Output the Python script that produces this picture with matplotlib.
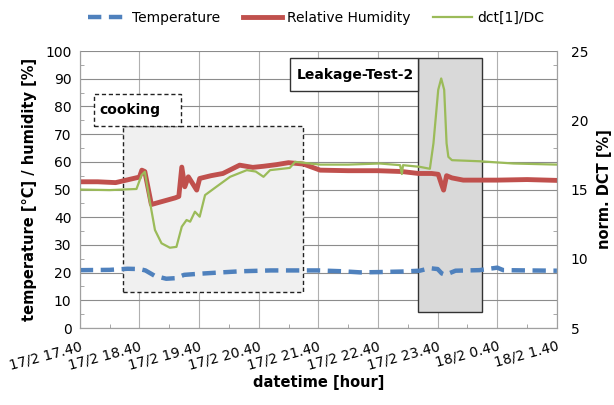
import matplotlib
matplotlib.use("Agg")
import matplotlib.pyplot as plt
from matplotlib.patches import Rectangle
from matplotlib.ticker import FixedLocator

plt.rcParams['font.family'] = ['DejaVu Sans']

# hours after 17/2 17.40
hour_ticks = [0, 1, 2, 3, 4, 5, 6, 7, 8]
hour_labels = ["17/2 17.40", "17/2 18.40", "17/2 19.40", "17/2 20.40", "17/2 21.40",
               "17/2 22.40", "17/2 23.40", "18/2 0.40", "18/2 1.40"]

# temperature [°C]
temp_t = [0, 0.5, 0.8, 1.0, 1.1, 1.26, 1.45, 1.6, 1.75, 2.0, 2.3, 2.7, 3.2, 3.6, 4.0,
          4.4, 4.7, 5.0, 5.4, 5.7, 5.87, 6.0, 6.07, 6.13, 6.3, 6.7, 7.0, 7.1, 7.5, 8.0]
temp_v = [20.9, 21.0, 21.4, 21.3, 20.8, 18.8, 17.8, 18.0, 19.2, 19.6, 20.0, 20.5, 20.8, 20.8, 20.8,
          20.5, 20.1, 20.2, 20.4, 20.7, 21.6, 21.3, 19.7, 19.2, 20.7, 20.9, 21.8, 20.9, 20.8, 20.7]

# relative humidity [%]
hum_t = [0, 0.3, 0.6, 0.8, 1.0, 1.04, 1.09, 1.2, 1.4, 1.6, 1.66, 1.71, 1.76, 1.82, 1.96,
         2.01, 2.2, 2.4, 2.68, 2.9, 3.08, 3.3, 3.5, 3.75, 4.03, 4.5, 5.0, 5.4, 5.68, 5.9,
         6.01, 6.07, 6.10, 6.15, 6.24, 6.43, 7.0, 7.5, 8.0]
hum_v = [52.8, 52.8, 52.5, 53.5, 54.5, 57.0, 56.5, 44.6, 45.8, 47.0, 47.5, 58.1, 51.0, 54.6, 49.8,
         54.0, 55.0, 55.8, 58.8, 58.0, 58.4, 59.0, 59.7, 59.2, 57.0, 56.8, 56.8, 56.5, 55.8, 55.8,
         55.5, 51.6, 49.8, 55.0, 54.2, 53.4, 53.4, 53.6, 53.3]

# dct[1]/DC, norm. DCT [%]
dct_t = [0, 0.5, 0.95, 1.035, 1.09, 1.17, 1.26, 1.37, 1.51, 1.62, 1.71, 1.79, 1.85, 1.93, 2.01,
         2.10, 2.29, 2.52, 2.80, 2.95, 3.08, 3.19, 3.52, 3.61, 4.03, 4.5, 5.03, 5.37, 5.40, 5.42,
         5.70, 5.87, 5.93, 6.01, 6.06, 6.11, 6.15, 6.18, 6.24, 6.71, 7.27, 8.0]
dct_v = [15.0, 14.96, 15.04, 16.04, 16.28, 14.24, 12.08, 11.12, 10.8, 10.86, 12.32, 12.8, 12.68, 13.4, 13.04,
         14.6, 15.2, 15.92, 16.4, 16.3, 15.92, 16.4, 16.56, 17.0, 16.8, 16.8, 16.88, 16.76, 16.12, 16.76,
         16.64, 16.5, 18.34, 22.2, 23.02, 22.2, 18.34, 17.36, 17.12, 17.04, 16.88, 16.8]

blue = "#4f81bd"
red = "#c0504d"
green = "#9bbb59"

fig = plt.figure(figsize=(6.14, 4.05), dpi=100)
ax = fig.add_axes([0.130, 0.190, 0.777, 0.684])
ax2 = ax.twinx()

ax.set_xlim(0, 8)
ax.set_ylim(0, 100)
ax2.set_ylim(5, 25)

# annotation boxes
ax.add_patch(Rectangle((0.72, 13), 3.02, 59.9, facecolor="#f0f0f0", edgecolor="#222222",
                       linestyle=(0, (3, 2)), lw=1.0, zorder=1))
ax.add_patch(Rectangle((0.23, 72.9), 1.46, 11.6, facecolor="white", edgecolor="#222222",
                       linestyle=(0, (3, 2)), lw=1.0, zorder=1.5))
ax.text(0.33, 78.7, "cooking", fontsize=10, fontweight="bold", va="center", ha="left", zorder=2)
ax.add_patch(Rectangle((5.67, 5.8), 1.07, 91.7, facecolor="#d9d9d9", edgecolor="#333333",
                       lw=1.0, zorder=1))
ax.add_patch(Rectangle((3.52, 85.6), 2.15, 11.9, facecolor="white", edgecolor="#333333",
                       lw=1.0, zorder=1.5))
ax.text(5.6, 91.5, "Leakage-Test-2", fontsize=10, fontweight="bold", va="center", ha="right", zorder=2)

l1, = ax.plot(temp_t, temp_v, color=blue, lw=3.2, dashes=(3, 1.7), label="Temperature", zorder=3)
l2, = ax.plot(hum_t, hum_v, color=red, lw=3.5, label="Relative Humidity", zorder=3)
l3, = ax2.plot(dct_t, dct_v, color=green, lw=1.6, label="dct[1]/DC", zorder=3)

ax.set_xticks(hour_ticks)
ax.set_xticklabels(hour_labels, rotation=15, ha="right", rotation_mode="anchor", fontsize=10)
ax.set_yticks(range(0, 101, 10))
ax2.set_yticks([5, 10, 15, 20, 25])
ax.xaxis.set_minor_locator(FixedLocator([h + 0.5 for h in hour_ticks[:-1]]))
ax.yaxis.set_minor_locator(FixedLocator(range(5, 100, 10)))
ax2.yaxis.set_minor_locator(FixedLocator([6, 12, 18, 24]))
ax.tick_params(axis="both", which="major", length=0, labelsize=10, pad=6)
ax.tick_params(axis="x", pad=8)
ax.tick_params(axis="both", which="minor", direction="in", length=3, color="#999999")
ax2.tick_params(axis="y", which="major", length=0, labelsize=10, pad=10)
ax2.tick_params(axis="y", which="minor", direction="in", length=3, color="#999999")

ax.grid(True, axis="y", color="#8c8c8c", lw=0.8)
ax.grid(True, axis="x", color="#b0b0b0", lw=0.8)
ax.set_axisbelow(True)
for a in (ax, ax2):
    for s in a.spines.values():
        s.set_color("#a0a0a0")
        s.set_linewidth(0.8)
ax.spines["top"].set_visible(False)
ax2.spines["top"].set_visible(False)

ax.set_ylabel("temperature [°C] / humidity [%]", fontsize=10.5, fontweight="bold", labelpad=6)
ax2.set_ylabel("norm. DCT [%]", fontsize=10.5, fontweight="bold", labelpad=6)
ax.set_xlabel("datetime [hour]", fontsize=10.5, fontweight="bold", labelpad=2)

fig.legend(handles=[l1, l2, l3], loc="center", bbox_to_anchor=(0.515, 0.955), ncol=3,
           frameon=False, fontsize=10, handlelength=2.8, handletextpad=0.4, columnspacing=1.6)

fig.savefig("out.png", dpi=100)
